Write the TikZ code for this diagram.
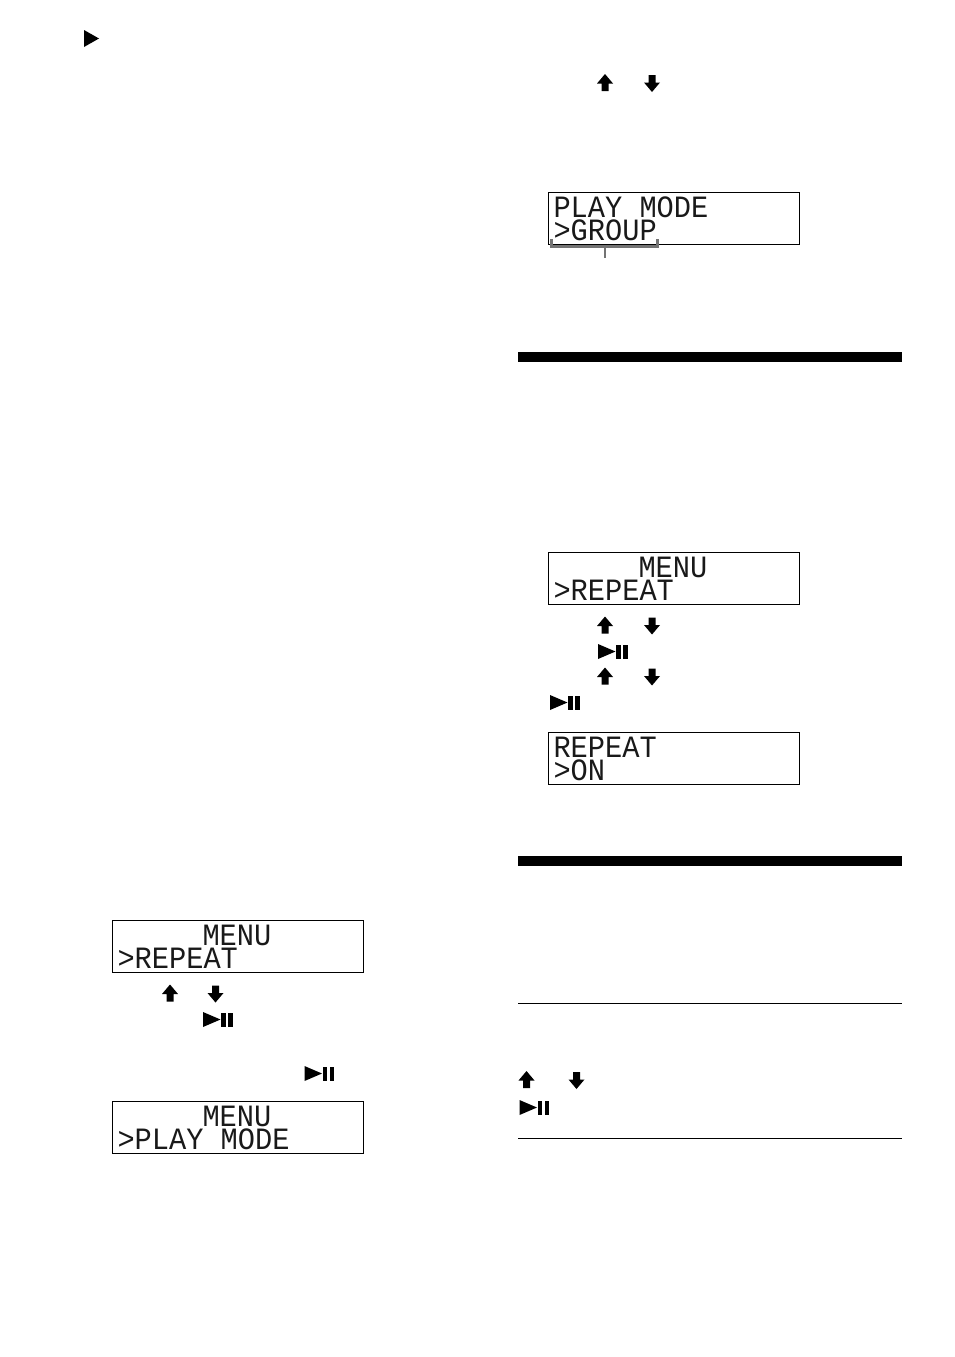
\documentclass[tikz,border=0pt]{standalone}
\usepackage{fontspec}
\newfontfamily\lcdfont[FakeStretch=0.925]{Liberation Mono}
\tikzset{
  x=1pt,y=-1pt,
  lcdbox/.style={draw=black,line width=1.3pt,fill=white,minimum width=251pt,minimum height=52pt,inner sep=0pt,anchor=north west},
  lcdtext/.style={anchor=base west,inner sep=0pt,outer sep=0pt,text height=20pt,text depth=0pt,font=\lcdfont\fontsize{31}{31}\selectfont,text=black!90},
  heavyrule/.style={fill=black,draw=none},
  thinrule/.style={draw=black,line width=1.2pt},
  bracketline/.style={draw=black!55,line width=3.4pt},
  stemline/.style={draw=black!55,line width=1.6pt},
  uparrow/.pic={\fill[black] (0,-9)--(8,0.5)--(3.5,0.5)--(3.5,8)--(-3.5,8)--(-3.5,0.5)--(-8,0.5)--cycle;},
  downarrow/.pic={\fill[black] (0,9)--(8,-0.5)--(3.5,-0.5)--(3.5,-8)--(-3.5,-8)--(-3.5,-0.5)--(-8,-0.5)--cycle;},
  playpause/.pic={\fill[black] (-15,-7.5)--(2.5,0)--(-15,7.5)--cycle;
    \fill[black] (3,-7)rectangle(7.5,7);\fill[black] (10,-7)rectangle(14.5,7);},
  playtri/.pic={\fill[black] (-7.5,-8.5)--(7.5,0)--(-7.5,8.5)--cycle;}
}
\begin{document}
\begin{tikzpicture}
\useasboundingbox (0,0) rectangle (954,1357);
% top-left triangle
\pic (tri) at (91.5,38.5) {playtri};
% LCD panels
\node[lcdbox] (lcdA) at (112,920) {};
\node[lcdtext] (lcdAa) at (202.5,945) {MENU};
\node[lcdtext] (lcdAb) at (117.5,968) {>REPEAT};
\node[lcdbox] (lcdB) at (112,1101) {};
\node[lcdtext] (lcdBa) at (202.5,1126) {MENU};
\node[lcdtext] (lcdBb) at (117.5,1149) {>PLAY MODE};
\node[lcdbox] (lcdC) at (548,192) {};
\node[lcdtext] (lcdCa) at (553.5,217) {PLAY MODE};
\node[lcdtext] (lcdCb) at (553.5,240) {>GROUP};
\node[lcdbox] (lcdD) at (548,552) {};
\node[lcdtext] (lcdDa) at (638.5,577) {MENU};
\node[lcdtext] (lcdDb) at (553.5,600) {>REPEAT};
\node[lcdbox] (lcdE) at (548,732) {};
\node[lcdtext] (lcdEa) at (553.5,757) {REPEAT};
\node[lcdtext] (lcdEb) at (553.5,780) {>ON};
% bracket under >GROUP
\coordinate (brL) at (551.5,239);
\coordinate (brR) at (657.5,239);
\coordinate (brM) at (605,247);
\coordinate (brE) at (605,258);
\draw[bracketline] (brL) -- ++(0,7.5) -| (brR);
\draw[stemline] (brM) -- (brE);
% section bars
\fill[heavyrule] (518,352) rectangle (902,362);
\fill[heavyrule] (518,856) rectangle (902,866);
% thin rules
\coordinate (ruleAl) at (518,1003.5);
\coordinate (ruleAr) at (902,1003.5);
\coordinate (ruleBl) at (518,1138.5);
\coordinate (ruleBr) at (902,1138.5);
\draw[thinrule] (ruleAl) -- (ruleAr);
\draw[thinrule] (ruleBl) -- (ruleBr);
% button glyphs
\pic (u1) at (170,993.5) {uparrow};
\pic (d1) at (215.5,993.5) {downarrow};
\pic (p1) at (218,1019.5) {playpause};
\pic (p2) at (319.5,1073.5) {playpause};
\pic (u2) at (605,83) {uparrow};
\pic (d2) at (652,83) {downarrow};
\pic (u3) at (605,625.5) {uparrow};
\pic (d3) at (652,625.5) {downarrow};
\pic (p3) at (613,651.5) {playpause};
\pic (u4) at (605,676.5) {uparrow};
\pic (d4) at (652,676.5) {downarrow};
\pic (p4) at (565,702.5) {playpause};
\pic (u5) at (526.5,1080) {uparrow};
\pic (d5) at (576.5,1080) {downarrow};
\pic (p5) at (534.5,1107.5) {playpause};
\end{tikzpicture}
\end{document}
